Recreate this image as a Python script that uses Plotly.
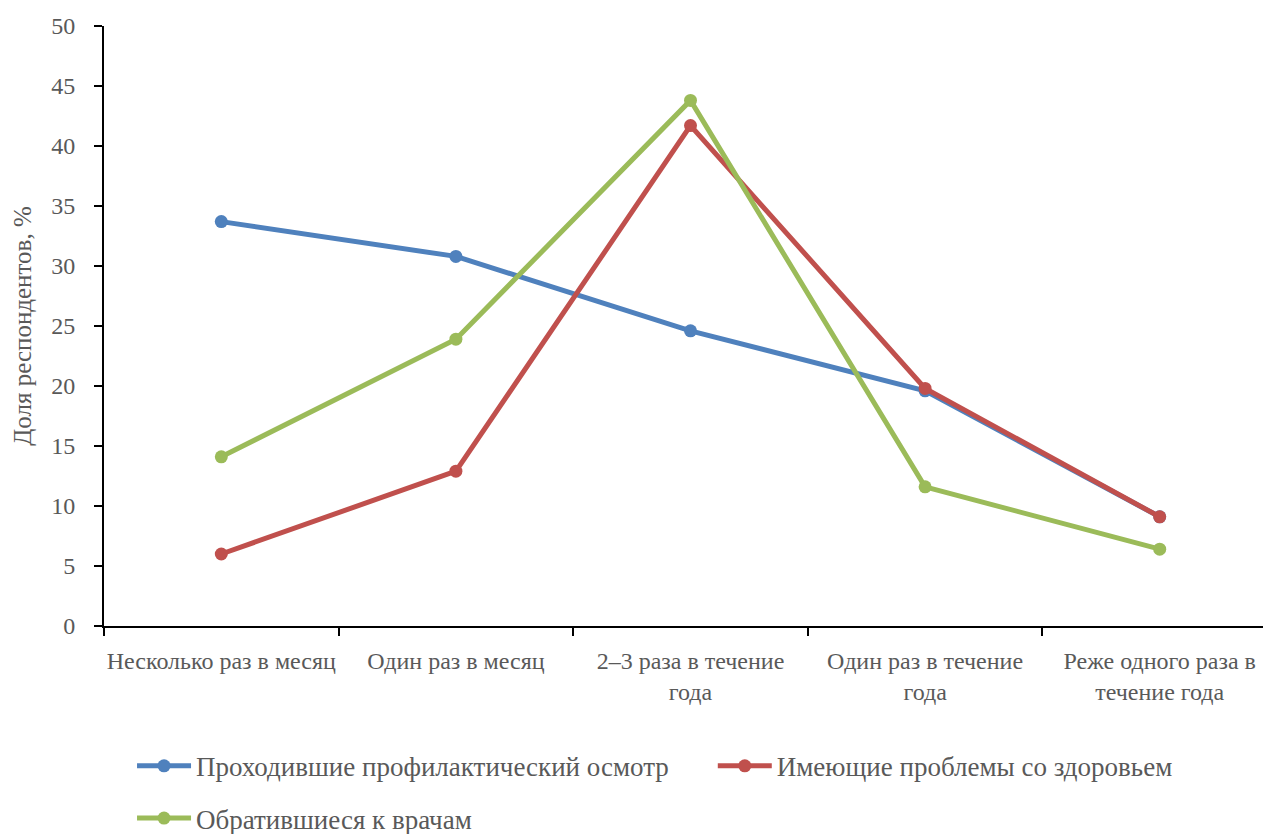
import plotly.graph_objects as go

categories = ["Несколько раз в месяц", "Один раз в месяц", "2–3 раза в течение<br>года",
              "Один раз в течение<br>года", "Реже одного раза в<br>течение года"]
series_names = ["Проходившие профилактический осмотр", "Имеющие проблемы со здоровьем",
                "Обратившиеся к врачам"]
prof = [33.7, 30.8, 24.6, 19.6, 9.1]
health = [6.0, 12.9, 41.7, 19.8, 9.1]
doctors = [14.1, 23.9, 43.8, 11.6, 6.4]
colors = ["#4F81BD", "#C0504D", "#9BBB59"]
legend_ids = ["legend", "legend2", "legend3"]

FONT = "Liberation Serif"
GRAY = "#595959"

fig = go.Figure()
for name, vals, col, lg in zip(series_names, [prof, health, doctors], colors, legend_ids):
    fig.add_trace(go.Scatter(
        x=categories, y=vals, name=name, mode="lines+markers",
        line=dict(color=col, width=5),
        marker=dict(color=col, size=13),
        legend=lg,
    ))

legend_common = dict(orientation="h", xanchor="left", yanchor="top",
                     font=dict(size=27, color=GRAY, family=FONT),
                     itemwidth=54, bgcolor="rgba(0,0,0,0)")

fig.update_layout(
    width=1271, height=834,
    margin=dict(l=96, r=2, t=18, b=216, autoexpand=False),
    plot_bgcolor="white", paper_bgcolor="white",
    font=dict(family=FONT, color=GRAY, size=24),
    showlegend=True,
    legend=dict(x=0.0239, y=-0.193, **legend_common),
    legend2=dict(x=0.519, y=-0.193, **legend_common),
    legend3=dict(x=0.0239, y=-0.28, **legend_common),
    xaxis=dict(
        type="category", range=[-0.5, 4.5], automargin=False,
        showline=True, linecolor="black", linewidth=2,
        ticks="outside", ticklen=8, tickwidth=2, tickcolor="black",
        tickson="boundaries", showgrid=False, zeroline=False,
        tickangle=0,
        tickfont=dict(size=24, color=GRAY, family=FONT),
        ticklabelstandoff=12,
    ),
    yaxis=dict(
        range=[0, 50], dtick=5, automargin=False,
        showline=True, linecolor="black", linewidth=2,
        ticks="outside", ticklen=8, tickwidth=2, tickcolor="black",
        showgrid=False, zeroline=False,
        tickfont=dict(size=24, color=GRAY, family=FONT),
        ticklabelstandoff=14,
        title=dict(text="Доля респондентов, %", font=dict(size=25, color=GRAY, family=FONT), standoff=12),
    ),
)

fig.write_html("out.html")
